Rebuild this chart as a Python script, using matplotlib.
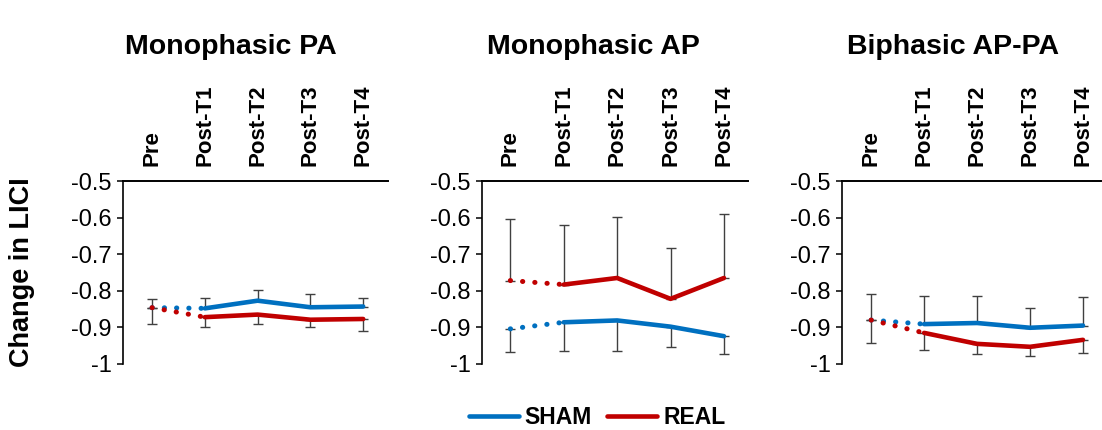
import matplotlib
matplotlib.use("Agg")
import matplotlib.pyplot as plt
import numpy as np
from matplotlib.lines import Line2D

plt.rcParams['font.family'] = ['Liberation Sans', 'DejaVu Sans']
plt.rcParams['axes.unicode_minus'] = False

# ---- data ----
timepoints = ["Pre", "Post-T1", "Post-T2", "Post-T3", "Post-T4"]
panel_titles = ["Monophasic PA", "Monophasic AP", "Biphasic AP-PA"]
series_names = ["SHAM", "REAL"]

sham_pa = [-0.846, -0.848, -0.827, -0.845, -0.843]
sham_pa_err = [0.024, 0.029, 0.030, 0.035, 0.024]
real_pa = [-0.846, -0.872, -0.865, -0.879, -0.877]
real_pa_err = [0.044, 0.028, 0.027, 0.021, 0.034]

sham_ap = [-0.904, -0.886, -0.881, -0.898, -0.924]
sham_ap_err = [0.064, 0.078, 0.083, 0.055, 0.049]
real_ap = [-0.772, -0.783, -0.765, -0.822, -0.765]
real_ap_err = [0.169, 0.162, 0.166, 0.140, 0.174]

sham_bi = [-0.880, -0.891, -0.888, -0.901, -0.895]
sham_bi_err = [0.072, 0.077, 0.074, 0.054, 0.077]
real_bi = [-0.880, -0.915, -0.945, -0.953, -0.934]
real_bi_err = [0.063, 0.047, 0.028, 0.024, 0.036]

yticks = [-0.5, -0.6, -0.7, -0.8, -0.9, -1.0]
ytick_labels = ["-0.5", "-0.6", "-0.7", "-0.8", "-0.9", "-1"]
y_label = "Change in LICI"

panels = [
    (sham_pa, sham_pa_err, real_pa, real_pa_err),
    (sham_ap, sham_ap_err, real_ap, real_ap_err),
    (sham_bi, sham_bi_err, real_bi, real_bi_err),
]

# ---- style / layout ----
W, H = 1102, 430
BLUE = "#0070C0"
RED = "#C00000"
ERRC = "#404040"
axes_px = [(123, 388, -0.55, 4.47), (482, 748, -0.53, 4.45), (842, 1101, -0.55, 4.34)]
top_px, bot_px = 181, 364
title_x = [231, 593, 953]
title_y = 47

fig = plt.figure(figsize=(W / 100, H / 100), dpi=100)

for i, (sm, se, rm, re) in enumerate(panels):
    l, r, x0, x1 = axes_px[i]
    ax = fig.add_axes([l / W, 1 - bot_px / H, (r - l) / W, (bot_px - top_px) / H])
    x = np.arange(len(timepoints))
    sm = np.array(sm); rm = np.array(rm); se = np.array(se); re = np.array(re)
    sham_above = sm.mean() > rm.mean()
    zeros = np.zeros_like(se)
    if sham_above:
        s_yerr = [zeros, se]; r_yerr = [re, zeros]
    else:
        s_yerr = [se, zeros]; r_yerr = [zeros, re]
    for m, yerr in ((sm, s_yerr), (rm, r_yerr)):
        ax.errorbar(x, m, yerr=yerr, fmt='none', ecolor=ERRC, elinewidth=1.0,
                    capsize=3.6, capthick=1.0, zorder=1)
    for m, c in ((sm, BLUE), (rm, RED)):
        ax.plot(x[:2], m[:2], color=c, lw=3.6, linestyle=(0, (0.05, 2.4)),
                dash_capstyle='round', zorder=3)
        ax.plot(x[1:], m[1:], color=c, lw=3.3, solid_capstyle='round',
                solid_joinstyle='round', zorder=3)
    ax.set_xlim(x0, x1)
    ax.set_ylim(-1.0, -0.5)
    ax.set_yticks(yticks)
    ax.set_yticklabels(ytick_labels, fontsize=17)
    ax.xaxis.tick_top()
    ax.set_xticks(x)
    ax.set_xticklabels(timepoints, rotation=90, fontsize=16, fontweight='bold',
                       va='bottom', ha='center')
    ax.tick_params(axis='x', length=0, pad=11)
    ax.tick_params(axis='y', direction='out', length=4, width=1.1, pad=4,
                   colors='black')
    for s in ('right', 'bottom'):
        ax.spines[s].set_visible(False)
    ax.spines['left'].set_linewidth(1.2)
    ax.spines['top'].set_linewidth(1.4)
    ax.patch.set_alpha(0)
    fig.text(title_x[i] / W, 1 - title_y / H, panel_titles[i], fontsize=20.5,
             fontweight='bold', ha='center', va='center')

fig.text(22 / W, 1 - 272 / H, y_label, rotation=90, fontsize=19.5,
         fontweight='bold', ha='center', va='center')

handles = [Line2D([0], [0], color=BLUE, lw=3.3, solid_capstyle='round'),
           Line2D([0], [0], color=RED, lw=3.3, solid_capstyle='round')]
fig.legend(handles, series_names, loc='center', bbox_to_anchor=(597 / W, 1 - 418 / H),
           ncol=2, frameon=False, prop={'size': 16.5, 'weight': 'bold'},
           handlelength=2.2, handletextpad=0.25, columnspacing=0.65)

fig.savefig("out.png", dpi=100)
